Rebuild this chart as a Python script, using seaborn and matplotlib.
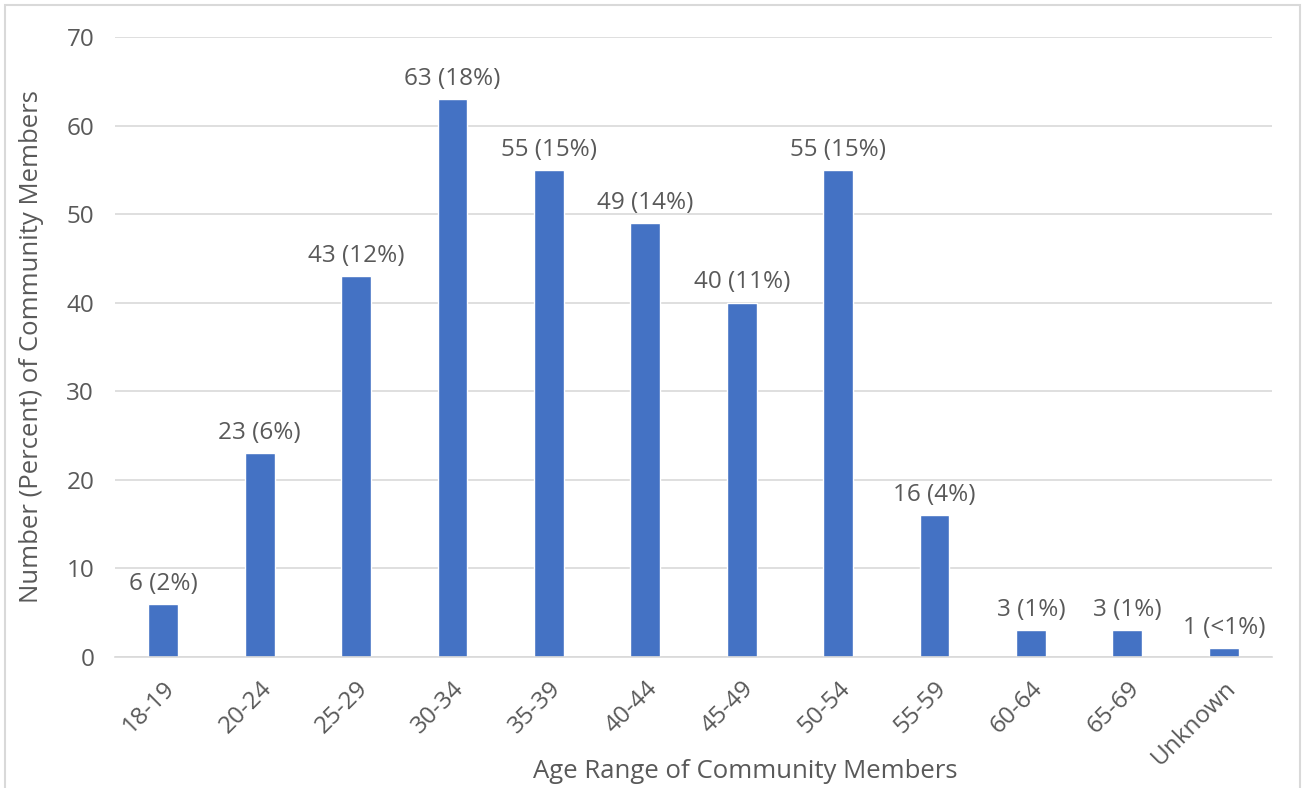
import matplotlib
matplotlib.use("Agg")
import matplotlib.pyplot as plt
import seaborn as sns
import pandas as pd
from matplotlib.patches import Rectangle

categories = ["18-19", "20-24", "25-29", "30-34", "35-39", "40-44", "45-49",
              "50-54", "55-59", "60-64", "65-69", "Unknown"]
counts = [6, 23, 43, 63, 55, 49, 40, 55, 16, 3, 3, 1]
pct_labels = ["2%", "6%", "12%", "18%", "15%", "14%", "11%", "15%", "4%", "1%", "1%", "<1%"]
y_ticks = [0, 10, 20, 30, 40, 50, 60, 70]

sns.set_theme(style="white")
plt.rcParams['font.family'] = ['Open Sans', 'DejaVu Sans']
txt = "#595959"

df = pd.DataFrame({"cat": categories, "n": counts})
fig = plt.figure(figsize=(13.04, 7.88), dpi=100)
ax = fig.add_axes([115/1304, 1-657/788, (1272-115)/1304, (657-37)/788])
sns.barplot(data=df, x="cat", y="n", color="#4472C4", width=0.31, saturation=1, ax=ax)

ax.set_ylim(0, 70)
ax.set_xlim(-0.5, len(categories) - 0.5)
ax.set_yticks(y_ticks)
ax.yaxis.grid(True, color="#d9d9d9", linewidth=1.2)
ax.set_axisbelow(True)
for s in ["top", "right", "left"]:
    ax.spines[s].set_visible(False)
ax.spines["bottom"].set_color("#d9d9d9")
ax.spines["bottom"].set_linewidth(1.2)

ax.tick_params(axis="y", length=0, labelsize=17.5, labelcolor=txt, pad=15)
ax.set_xticks(range(len(categories)))
ax.set_xticklabels(categories, rotation=45, ha="right", rotation_mode="anchor",
                   fontsize=17.5, color=txt)
ax.tick_params(axis="x", which="major", length=0, pad=14)
ax.set_xticks([i - 0.5 for i in range(len(categories) + 1)], minor=True)
ax.tick_params(axis="x", which="minor", length=8, width=1.2, color="#d9d9d9", direction="out")

for i, (c, p) in enumerate(zip(counts, pct_labels)):
    ax.annotate(f"{c} ({p})", (i, c), xytext=(0, 6), textcoords="offset points",
                ha="center", va="bottom", fontsize=17.5, color=txt)

ax.set_xlabel("Age Range of Community Members", fontsize=18.5, color=txt, va="center")
ax.xaxis.set_label_coords((745-115)/(1272-115), -(772-657)/(657-37))
ax.set_ylabel("Number (Percent) of Community Members", fontsize=18.5, color=txt, va="center")
ax.yaxis.set_label_coords(-(115-32)/(1272-115), 0.5)

fig.patches.append(Rectangle((5/1304, -0.1), 1295/1304, 1.1 - 5/788, transform=fig.transFigure,
                             fill=False, edgecolor="#d9d9d9", linewidth=1.5))

fig.savefig("out.png", dpi=100)
